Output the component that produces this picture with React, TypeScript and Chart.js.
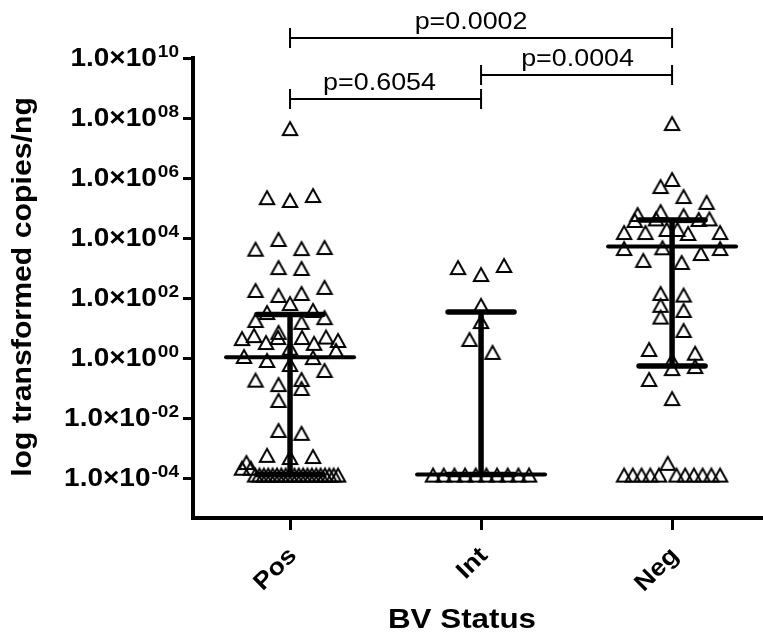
import React, { useEffect, useRef } from 'react';
import { Chart, registerables } from 'chart.js';

Chart.register(...registerables);

// ---- data ---------------------------------------------------------------
const categories = ['Pos', 'Int', 'Neg'];

// copies/ng per sample; values at 1.3e-4 are at the detection floor
const posValues = [
  1.3e-4, 1.3e-4, 1.3e-4, 1.3e-4, 1.3e-4, 1.3e-4, 1.3e-4, 1.3e-4, 1.3e-4, 1.3e-4,
  1.3e-4, 1.3e-4, 1.3e-4, 1.3e-4, 1.3e-4, 1.3e-4, 1.3e-4, 2.2e-4, 1.3e-4, 3.4e-4,
  1.3e-4, 2.2e-4, 1.3e-4,
  5.0e-4, 5.9e-4, 5.4e-4,
  0.004, 0.0032,
  0.04,
  0.135, 0.1, 0.2, 0.19,
  0.4, 0.63, 0.86, 1.07, 1.17,
  2.2, 5.0, 1.85, 5.0, 3.4, 3.2, 5.8, 5.2, 4.6, 4.0,
  7.4, 16, 18.5, 23,
  68, 34, 40,
  126, 147, 185, 234,
  1070, 1000,
  9300, 4600, 4400, 5000,
  1.85e5, 2.3e5, 2.7e5,
  4.6e7,
];

const intValues = [
  1.3e-4, 1.3e-4, 1.3e-4, 1.3e-4, 1.3e-4, 1.3e-4, 1.3e-4, 1.3e-4, 1.3e-4, 1.3e-4,
  4.3, 1.6,
  17,
  59,
  630, 1070, 1260,
];

const negValues = [
  3.2e-4, 1.3e-4, 1.3e-4, 1.3e-4, 1.3e-4, 1.3e-4, 1.3e-4, 1.3e-4, 1.3e-4, 1.3e-4,
  1.3e-4, 1.3e-4,
  0.046,
  0.46, 0.2, 0.54,
  0.86, 2, 1.5,
  24, 8.6,
  59, 40,
  147, 130,
  4900, 1585, 1860, 3160, 4640, 4640,
  2e4, 2e4, 4.5e4, 1.47e4, 1.58e4, 4.3e4, 4e4, 4.5e4, 1.58e4, 1.58e4,
  7.9e4, 5.8e4, 6.3e4, 1.6e5,
  5.4e5, 2.5e5,
  9.3e5,
  6.8e7,
];

// median with interquartile range per group
const medians = [1.05, 1.3e-4, 5200];
const lowerQuartiles = [1.3e-4, 1.3e-4, 0.54];
const upperQuartiles = [28, 34, 40000];

const yTickValues = [1e-4, 1e-2, 1, 1e2, 1e4, 1e6, 1e8, 1e10];
const yTickExponents = ['-04', '-02', '00', '02', '04', '06', '08', '10'];

const comparisonPairs = [
  [0, 2],
  [1, 2],
  [0, 1],
];
const comparisonLabels = ['p=0.0002', 'p=0.0004', 'p=0.6054'];

const yAxisTitle = 'log transformed copies/ng';
const xAxisTitle = 'BV Status';

// ---- styling ------------------------------------------------------------
const FONT = '"Liberation Sans", Arial, Helvetica, sans-serif';
const TEXT_STRETCH = 1.12;
const Y_MIN = Math.pow(10, -16 / 3);
const Y_MAX = 1e10;
const X_MIN = -0.508;
const X_MAX = 2.476;
const BRACKET_LEVELS = [-20, 17, 41]; // px relative to plot top
const BRACKET_TEXT_SHIFT = [-10, 1, -6]; // label nudges along the bracket
const BIN_PX = 15; // rows of the column scatter
const STEP_PX = 23; // spacing of points in a row
const HALF_SPREAD_PX = 48; // widest a row may get

function makeTriangle(): HTMLCanvasElement {
  const c = document.createElement('canvas');
  c.width = 24;
  c.height = 24;
  const g = c.getContext('2d')!;
  g.strokeStyle = '#000';
  g.lineWidth = 2;
  g.lineJoin = 'miter';
  g.beginPath();
  g.moveTo(12, 6);
  g.lineTo(19.2, 19);
  g.lineTo(4.8, 19);
  g.closePath();
  g.stroke();
  return c;
}

// Column scatter: group points into rows by pixel height and spread each
// row centre-out around the column.
function swarmOffsets(ys: number[]): number[] {
  const order = ys.map((_, i) => i).sort((a, b) => ys[b] - ys[a] || a - b);
  const out = new Array(ys.length).fill(0);
  let i = 0;
  while (i < order.length) {
    const startY = ys[order[i]];
    let j = i;
    while (j < order.length && Math.abs(startY - ys[order[j]]) < BIN_PX) j++;
    const members = order.slice(i, j).sort((a, b) => a - b);
    const n = members.length;
    const spacing = n > 1 ? Math.min(STEP_PX, (2 * HALF_SPREAD_PX) / (n - 1)) : 0;
    members.forEach((idx, k) => {
      let slot: number;
      if (n % 2 === 1) {
        const m = Math.ceil(k / 2);
        slot = k === 0 ? 0 : k % 2 === 1 ? -m : m;
      } else {
        const m = Math.floor(k / 2) + 0.5;
        slot = k % 2 === 0 ? -m : m;
      }
      out[idx] = slot * spacing;
    });
    i = j;
  }
  return out;
}

function drawText(
  ctx: CanvasRenderingContext2D,
  text: string,
  x: number,
  y: number,
  font: string,
  align: CanvasTextAlign,
  rotation = 0,
  baseline: CanvasTextBaseline = 'alphabetic'
) {
  ctx.save();
  ctx.translate(x, y);
  if (rotation) ctx.rotate(rotation);
  ctx.scale(TEXT_STRETCH, 1);
  ctx.font = font;
  ctx.textAlign = align;
  ctx.textBaseline = baseline;
  ctx.fillStyle = '#000';
  ctx.fillText(text, 0, 0);
  ctx.restore();
}

function textWidth(ctx: CanvasRenderingContext2D, text: string, font: string) {
  ctx.save();
  ctx.font = font;
  const w = ctx.measureText(text).width * TEXT_STRETCH;
  ctx.restore();
  return w;
}

const errorBarPlugin = {
  id: 'medianIqr',
  afterDatasetsDraw(chart: any) {
    const { ctx } = chart;
    const xs = chart.scales.x;
    const ys = chart.scales.y;
    ctx.save();
    ctx.strokeStyle = '#000';
    categories.forEach((_, g) => {
      const x = xs.getPixelForValue(g);
      const yMed = ys.getPixelForValue(medians[g]);
      const yLo = ys.getPixelForValue(lowerQuartiles[g]);
      const yHi = ys.getPixelForValue(upperQuartiles[g]);
      ctx.lineCap = 'butt';
      ctx.lineWidth = 5.5;
      ctx.beginPath();
      ctx.moveTo(x, yLo);
      ctx.lineTo(x, yHi);
      ctx.stroke();
      ctx.lineCap = 'round';
      ctx.lineWidth = 5.5;
      [yLo, yHi].forEach((y) => {
        ctx.beginPath();
        ctx.moveTo(x - 33, y);
        ctx.lineTo(x + 33, y);
        ctx.stroke();
      });
      ctx.lineWidth = 4;
      ctx.beginPath();
      ctx.moveTo(x - 64, yMed);
      ctx.lineTo(x + 64, yMed);
      ctx.stroke();
    });
    ctx.restore();
  },
};

const labelPlugin = {
  id: 'axisText',
  afterDraw(chart: any) {
    const { ctx, chartArea } = chart;
    const xs = chart.scales.x;
    const ys = chart.scales.y;

    // y tick labels: 1.0×10 with raised exponent
    const baseFont = `bold 25px ${FONT}`;
    const expFont = `bold 17px ${FONT}`;
    const right = chartArea.left - 14;
    yTickValues.forEach((v, i) => {
      const y = ys.getPixelForValue(v);
      const exp = yTickExponents[i];
      const ew = textWidth(ctx, exp, expFont);
      drawText(ctx, exp, right, y - 1, expFont, 'right');
      drawText(ctx, '1.0×10', right - ew - 1, y + 8, baseFont, 'right');
    });

    // category labels
    categories.forEach((c, g) => {
      const x = xs.getPixelForValue(g);
      drawText(ctx, c, x + 3, chartArea.bottom + 34, `bold 24px ${FONT}`, 'right', -Math.PI / 4, 'middle');
    });

    // axis titles
    drawText(ctx, yAxisTitle, 31, (chartArea.top + chartArea.bottom) / 2 - 1, `bold 27px ${FONT}`, 'center', -Math.PI / 2);
    drawText(ctx, xAxisTitle, (chartArea.left + chartArea.right) / 2 - 16, chartArea.bottom + 110, `bold 28px ${FONT}`, 'center');

    // significance brackets
    ctx.save();
    ctx.strokeStyle = '#000';
    ctx.lineWidth = 2;
    comparisonPairs.forEach(([a, b], k) => {
      const x1 = xs.getPixelForValue(a);
      const x2 = xs.getPixelForValue(b);
      const y = chartArea.top + BRACKET_LEVELS[k];
      ctx.beginPath();
      ctx.moveTo(x1, y);
      ctx.lineTo(x2, y);
      ctx.moveTo(x1, y - 10);
      ctx.lineTo(x1, y + 10);
      ctx.moveTo(x2, y - 10);
      ctx.lineTo(x2, y + 10);
      ctx.stroke();
      drawText(ctx, comparisonLabels[k], (x1 + x2) / 2 + BRACKET_TEXT_SHIFT[k], y - 9, `24px ${FONT}`, 'center');
    });
    ctx.restore();
  },
};

export default function App() {
  const canvasRef = useRef<HTMLCanvasElement | null>(null);

  useEffect(() => {
    document.body.style.margin = '0';
    const canvas = canvasRef.current!;
    const marker = makeTriangle();
    const groups = [posValues, intValues, negValues];

    const axisGrid = (len: number) => ({
      display: true,
      drawOnChartArea: false,
      drawTicks: true,
      tickLength: len,
      lineWidth: 3,
      color: '#000',
    });

    const chart = new Chart(canvas, {
      type: 'scatter',
      data: {
        datasets: groups.map((vals, g) => ({
          label: categories[g],
          data: vals.map((v) => ({ x: g, y: v })),
          pointStyle: marker as any,
          pointRadius: 8,
          pointHoverRadius: 8,
          borderColor: '#000',
          backgroundColor: 'rgba(0,0,0,0)',
        })),
      },
      options: {
        responsive: false,
        animation: false,
        devicePixelRatio: 1,
        layout: { autoPadding: false, padding: { top: 58, right: 0, bottom: 0, left: 0 } },
        plugins: { legend: { display: false }, tooltip: { enabled: false } },
        events: [],
        scales: {
          x: {
            type: 'linear',
            min: X_MIN,
            max: X_MAX,
            afterBuildTicks: (s: any) => {
              s.ticks = categories.map((_, i) => ({ value: i }));
            },
            afterFit: (s: any) => {
              s.height = 116;
              s.paddingLeft = 0;
              s.paddingRight = 0;
            },
            grid: axisGrid(12) as any,
            border: { display: true, width: 4, color: '#000' },
            ticks: { display: false },
          },
          y: {
            type: 'logarithmic',
            min: Y_MIN,
            max: Y_MAX,
            afterBuildTicks: (s: any) => {
              s.ticks = yTickValues.map((v) => ({ value: v }));
            },
            afterFit: (s: any) => {
              s.width = 193;
              s.paddingTop = 0;
              s.paddingBottom = 0;
            },
            grid: axisGrid(10) as any,
            border: { display: true, width: 4, color: '#000' },
            ticks: { display: false },
          },
        },
      },
      plugins: [errorBarPlugin, labelPlugin],
    });

    const xs: any = chart.scales.x;
    const ys: any = chart.scales.y;
    groups.forEach((vals, g) => {
      const offsets = swarmOffsets(vals.map((v) => ys.getPixelForValue(v)));
      const cx = xs.getPixelForValue(g);
      chart.data.datasets[g].data = vals.map((v, i) => ({
        x: xs.getValueForPixel(cx + offsets[i]),
        y: v,
      }));
    });
    chart.update('none');

    return () => chart.destroy();
  }, []);

  return (
    <div style={{ width: 763, height: 634, background: '#fff' }}>
      <canvas ref={canvasRef} width={763} height={634} style={{ display: 'block' }} />
    </div>
  );
}
